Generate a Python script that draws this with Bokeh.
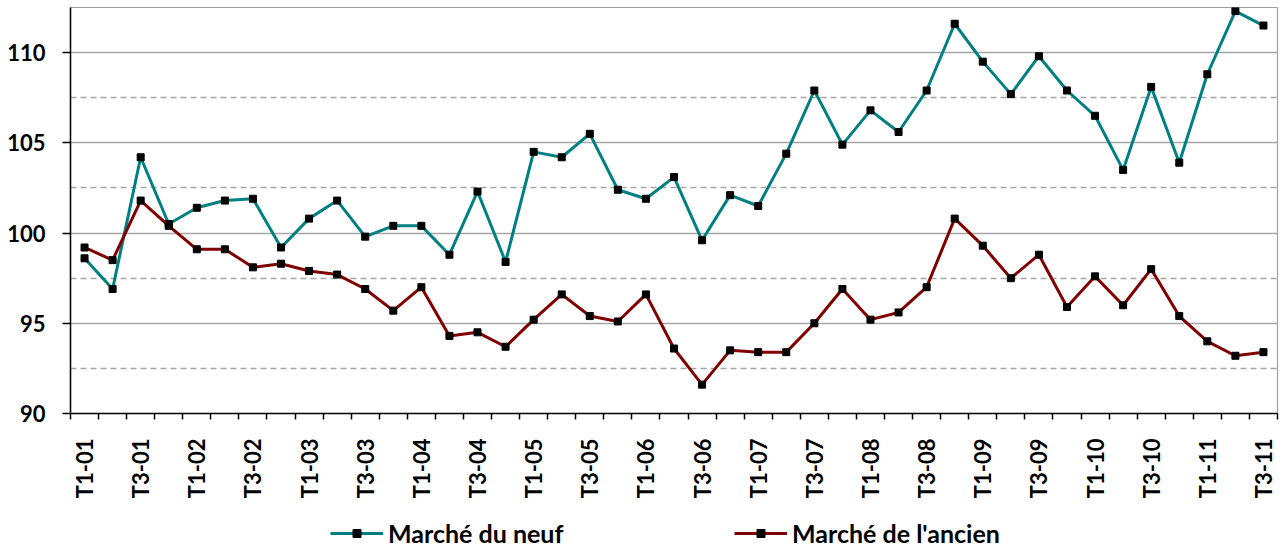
import math
from bokeh.plotting import figure
from bokeh.layouts import column
from bokeh.models import FixedTicker, Legend, LegendItem, Range1d
from bokeh.embed import file_html
from bokeh.resources import INLINE

years = ["01", "02", "03", "04", "05", "06", "07", "08", "09", "10", "11"]
quarters = ["T1", "T2", "T3", "T4"]
periods = [f"{q}-{y}" for y in years for q in quarters][:43]

neuf = [98.6, 96.9, 104.2, 100.5, 101.4, 101.8, 101.9, 99.2, 100.8, 101.8,
        99.8, 100.4, 100.4, 98.8, 102.3, 98.4, 104.5, 104.2, 105.5, 102.4,
        101.9, 103.1, 99.6, 102.1, 101.5, 104.4, 107.9, 104.9, 106.8, 105.6,
        107.9, 111.6, 109.5, 107.7, 109.8, 107.9, 106.5, 103.5, 108.1, 103.9,
        108.8, 112.3, 111.5]
ancien = [99.2, 98.5, 101.8, 100.4, 99.1, 99.1, 98.1, 98.3, 97.9, 97.7,
          96.9, 95.7, 97.0, 94.3, 94.5, 93.7, 95.2, 96.6, 95.4, 95.1,
          96.6, 93.6, 91.6, 93.5, 93.4, 93.4, 95.0, 96.9, 95.2, 95.6,
          97.0, 100.8, 99.3, 97.5, 98.8, 95.9, 97.6, 96.0, 98.0, 95.4,
          94.0, 93.2, 93.4]
series_names = ["Marché du neuf", "Marché de l'ancien"]
series_colors = ["#008080", "#800000"]
y_ticks = [90, 95, 100, 105, 110]
y_minor = [92.5, 97.5, 102.5, 107.5, 112.5]

FONT = "Lato"
idx = list(range(len(periods)))

p = figure(width=1280, height=516, output_backend="svg", toolbar_location=None,
           x_range=Range1d(-0.5, len(periods) - 0.5), y_range=Range1d(90, 112.5),
           min_border_left=70, min_border_right=3, min_border_top=7, min_border_bottom=103)
p.outline_line_color = "#a0a0a0"
p.outline_line_width = 1.2
p.background_fill_color = "white"

# x axis
p.xaxis.ticker = FixedTicker(ticks=[i for i in idx if i % 2 == 0],
                             minor_ticks=[i - 0.5 for i in range(len(periods) + 1)])
p.xaxis.major_label_overrides = {i: periods[i] for i in idx if i % 2 == 0}
p.xaxis.major_tick_line_color = None
p.xaxis.minor_tick_line_color = "black"
p.xaxis.minor_tick_line_width = 1.5
p.xaxis.minor_tick_out = 6
p.xaxis.minor_tick_in = 0
p.xaxis.major_label_orientation = math.pi / 2
p.xaxis.major_label_standoff = 19
p.xaxis.major_label_text_font_size = "22px"
p.xaxis.axis_line_color = "black"
p.xaxis.axis_line_width = 1.5

# y axis
p.yaxis.ticker = FixedTicker(ticks=y_ticks, minor_ticks=y_minor)
p.yaxis.major_tick_out = 8
p.yaxis.major_tick_in = 0
p.yaxis.major_tick_line_width = 1.5
p.yaxis.minor_tick_line_color = None
p.yaxis.major_label_standoff = 17
p.yaxis.major_label_text_font_size = "22px"
p.yaxis.axis_line_color = "black"
p.yaxis.axis_line_width = 1.5

for ax in (p.xaxis, p.yaxis):
    ax.major_label_text_font = FONT
    ax.major_label_text_font_style = "bold"
    ax.major_label_text_color = "black"

p.xgrid.grid_line_color = None
p.ygrid.grid_line_color = "#a6a6a6"
p.ygrid.grid_line_width = 1.3
p.ygrid.minor_grid_line_color = "#a6a6a6"
p.ygrid.minor_grid_line_width = 1.3
p.ygrid.minor_grid_line_dash = "6 4"

series = [neuf, ancien]
for vals, col in zip(series, series_colors):
    p.line(idx, vals, line_color=col, line_width=3)
    p.scatter(idx, vals, marker="square", size=7, fill_color="black", line_color="black")

# legend strip (separate figure under the chart; its series lie outside its view)
q = figure(width=1280, height=32, output_backend="svg", toolbar_location=None,
           x_range=Range1d(-0.5, len(periods) - 0.5), y_range=Range1d(0, 1),
           min_border=0, outline_line_color=None)
q.axis.visible = False
q.grid.visible = False
items = []
for name, vals, col in zip(series_names, series, series_colors):
    lr = q.line(idx, vals, line_color=col, line_width=3)
    sr = q.scatter(idx, vals, marker="square", size=8, fill_color="black", line_color="black")
    items.append(LegendItem(label=name, renderers=[lr, sr]))

legend = Legend(items=items, orientation="horizontal", location=(260, 0),
                glyph_width=53, glyph_height=20, label_standoff=5,
                label_width=219, spacing=127, padding=3, margin=0,
                border_line_color=None, background_fill_alpha=0,
                label_text_font=FONT, label_text_font_style="bold",
                label_text_font_size="25px", label_text_color="black")
q.add_layout(legend, "center")

open("out.html", "w").write(file_html(column(p, q, spacing=0), INLINE))
